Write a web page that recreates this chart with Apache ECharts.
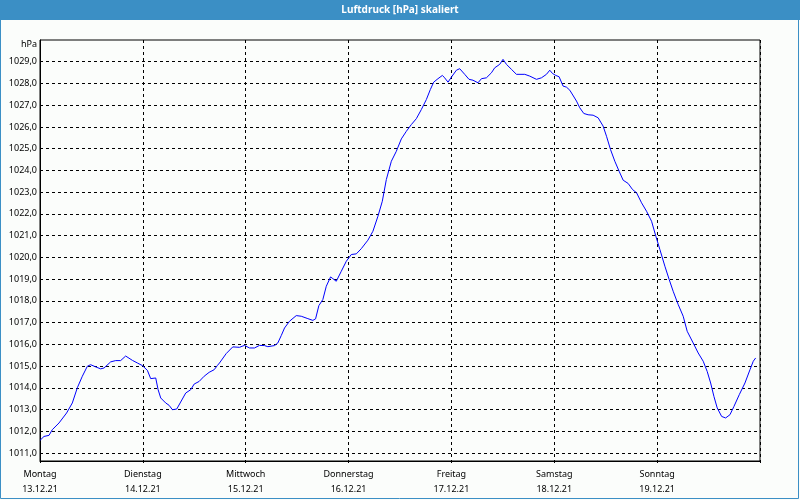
<!DOCTYPE html>
<html>
<head>
<meta charset="utf-8">
<script src="https://cdn.jsdelivr.net/npm/echarts@6/dist/echarts.min.js"></script>
<style>
html,body{margin:0;padding:0;background:#fbfdfb;}
#chart{width:800px;height:500px;}
</style>
</head>
<body>
<div id="chart"></div>
<script>
// Hours since Monday 13.12.21 00:00
const hours = [0.0,0.93,2.10,2.87,4.44,6.21,7.54,8.71,9.88,11.05,11.82,12.99,14.15,14.95,16.49,17.66,18.82,19.99,21.56,22.72,23.89,25.06,25.83,27.00,27.56,28.17,29.33,30.13,30.90,31.90,32.70,34.01,35.17,35.97,37.13,38.30,39.47,40.64,41.41,
41.88,43.44,44.98,46.55,47.71,48.88,50.05,51.22,52.38,53.16,54.72,55.49,56.29,57.06,58.22,59.79,60.96,62.50,63.67,64.30,65.07,66.00,66.80,67.80,68.34,69.13,70.30,71.47,72.63,73.80,74.97,76.51,77.68,
78.85,79.87,80.81,81.98,83.14,84.31,85.48,86.65,87.81,88.98,90.15,91.08,91.86,92.86,93.89,94.42,95.20,95.99,97.16,97.93,99.10,100.10,101.03,102.20,103.00,104.16,105.33,106.10,107.27,108.04,108.83,110.00,111.17,113.11,114.27,115.84,117.00,118.17,118.95,119.58,120.35,121.12,122.05,122.85,123.62,125.18,
125.95,126.88,127.89,129.06,130.23,131.39,132.19,133.12,134.13,135.13,136.07,137.23,138.26,139.20,140.36,141.53,142.70,143.70,144.64,145.81,146.81,147.74,148.91,150.08,151.01,152.41,153.58,154.75,155.68,156.48,157.25,158.02,159.05,159.98,160.99,161.92,163.16,164.49,165.66,166.43,166.99];
const pressure = [1011.58,1011.76,1011.81,1012.07,1012.38,1012.84,1013.30,1014.00,1014.53,1014.99,1015.06,1014.96,1014.87,1014.91,1015.19,1015.25,1015.25,1015.46,1015.26,1015.14,1015.02,1014.80,1014.42,1014.45,1013.91,1013.53,1013.30,1013.19,1012.99,1013.02,1013.30,1013.76,1013.91,1014.17,1014.29,1014.53,1014.71,1014.83,1015.03,
1015.14,1015.57,1015.88,1015.86,1015.95,1015.83,1015.83,1015.95,1015.94,1015.89,1015.94,1016.06,1016.40,1016.75,1017.06,1017.32,1017.29,1017.18,1017.10,1017.17,1017.78,1018.06,1018.67,1019.10,1019.02,1018.90,1019.36,1019.82,1020.13,1020.16,1020.40,1020.79,1021.20,
1021.89,1022.58,1023.58,1024.42,1024.88,1025.45,1025.80,1026.11,1026.38,1026.80,1027.26,1027.72,1028.06,1028.22,1028.37,1028.26,1028.06,1028.29,1028.61,1028.68,1028.42,1028.19,1028.15,1028.03,1028.22,1028.26,1028.49,1028.72,1028.88,1029.11,1028.88,1028.65,1028.42,1028.42,1028.34,1028.19,1028.26,1028.42,1028.61,1028.46,1028.37,1028.31,1027.88,1027.83,1027.69,1027.19,
1026.88,1026.62,1026.56,1026.54,1026.42,1026.04,1025.57,1024.96,1024.42,1023.96,1023.55,1023.40,1023.12,1022.97,1022.51,1022.12,1021.66,1020.97,1020.36,1019.59,1018.98,1018.44,1017.83,1017.29,1016.60,1016.06,1015.60,1015.22,1014.75,1014.22,1013.60,1013.07,1012.68,1012.61,1012.76,1013.14,1013.68,1014.22,1014.83,1015.22,1015.37];
const dayNames = ['Montag','Dienstag','Mittwoch','Donnerstag','Freitag','Samstag','Sonntag'];
const dayDates = ['13.12.21','14.12.21','15.12.21','16.12.21','17.12.21','18.12.21','19.12.21'];
const yTicks = [1011,1012,1013,1014,1015,1016,1017,1018,1019,1020,1021,1022,1023,1024,1025,1026,1027,1028,1029];

const FONT = '"Noto Sans", "Liberation Sans", sans-serif';
const BLUE = '#3b8fc5';
const chart = echarts.init(document.getElementById('chart'), null, {renderer:'canvas'});
const seriesData = hours.map((h, i) => [h, pressure[i]]);

chart.setOption({
  animation: false,
  backgroundColor: '#fbfdfb',
  graphic: [
    {type:'rect', z:-10, silent:true, shape:{x:0.5, y:0.5, width:798, height:498}, style:{fill:'#fbfdfb', stroke:BLUE, lineWidth:1}},
    {type:'rect', z:-9, silent:true, shape:{x:0, y:0, width:800, height:20}, style:{fill:BLUE}}
  ],
  title: {
    text: 'Luftdruck [hPa] skaliert',
    left: 'center', top: 4, padding: 0,
    textStyle: {color:'#ffffff', fontFamily: FONT, fontWeight:'bold', fontSize:10, lineHeight:12}
  },
  grid: {left:40, right:40, top:40, bottom:39, show:true, borderColor:'#000', borderWidth:1, backgroundColor:'transparent'},
  xAxis: {
    type:'value', min:0, max:168, interval:24,
    axisLine:{show:true, lineStyle:{color:'#000', width:1}},
    axisTick:{show:true, length:2, lineStyle:{color:'#000'}},
    splitLine:{show:true, lineStyle:{color:'#000', width:1, type:[3,3]}},
    axisLabel:{
      margin:6, color:'#000', fontFamily:FONT, fontSize:9, lineHeight:15, align:'center',
      formatter: v => { const i = Math.round(v/24); return i < dayNames.length ? dayNames[i] + '\n' + dayDates[i] : ''; }
    }
  },
  yAxis: {
    type:'value', min:1010.63, max:1030,
    name:'hPa', nameLocation:'end', nameGap:-4,
    nameTextStyle:{color:'#000', fontFamily:FONT, fontSize:9, align:'right', verticalAlign:'middle', padding:[0,3,0,0]},
    axisLine:{show:true, lineStyle:{color:'#000', width:1}},
    axisTick:{show:false},
    splitLine:{show:false},
    axisLabel:{
      customValues: yTicks, margin:3, color:'#000', fontFamily:FONT, fontSize:9,
      formatter: v => v.toFixed(1).replace('.', ',')
    }
  },
  series: [{
    type:'line', data: seriesData, showSymbol:false, symbol:'none',
    lineStyle:{color:'#0000ff', width:1}, smooth:false, z:5,
    markLine:{
      silent:true, symbol:['none','none'], label:{show:false}, animation:false,
      emphasis:{disabled:true},
      lineStyle:{color:'#000', width:1, type:[3,3]},
      data: yTicks.map(v => ({yAxis: v}))
    }
  }]
});
</script>
</body>
</html>
